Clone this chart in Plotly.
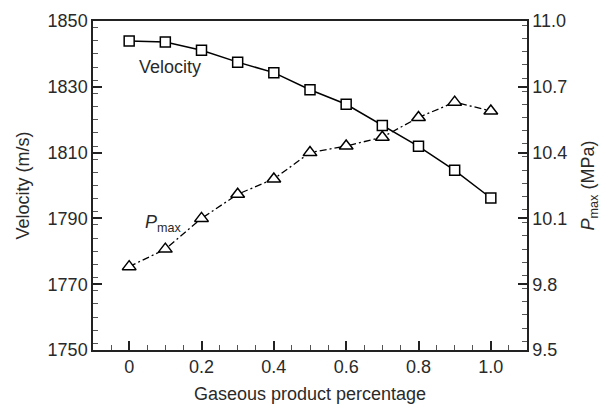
import plotly.graph_objects as go

gas_fraction = [0, 0.1, 0.2, 0.3, 0.4, 0.5, 0.6, 0.7, 0.8, 0.9, 1.0]
velocity = [1843.9, 1843.6, 1841.1, 1837.5, 1834.3, 1829.1, 1824.7, 1818.2, 1811.9, 1804.6, 1796.2]
pmax = [9.88, 9.96, 10.10, 10.21, 10.28, 10.40, 10.43, 10.47, 10.56, 10.63, 10.59]

x_tickvals = [0, 0.2, 0.4, 0.6, 0.8, 1.0]
x_ticktext = ["0", "0.2", "0.4", "0.6", "0.8", "1.0"]
x_minorvals = [-0.05, 0.05, 0.1, 0.15, 0.25, 0.3, 0.35, 0.45, 0.5, 0.55, 0.65, 0.7, 0.75,
               0.85, 0.9, 0.95, 1.05]

FONT = "Liberation Sans, Arial, sans-serif"
TXT = "#2a2a2a"

fig = go.Figure()
fig.add_trace(go.Scatter(
    x=gas_fraction, y=velocity, mode="lines+markers", name="Velocity",
    line=dict(color="black", width=1.5),
    marker=dict(symbol="square", size=10, color="white", line=dict(color="black", width=1.5)),
    yaxis="y"))
fig.add_trace(go.Scatter(
    x=gas_fraction, y=pmax, mode="lines+markers", name="Pmax",
    line=dict(color="black", width=1.3, dash="7px,3px,2px,3px"),
    marker=dict(symbol="triangle-up", size=12, color="white", line=dict(color="black", width=1.5)),
    yaxis="y2"))

fig.update_layout(
    width=607, height=404,
    margin=dict(l=93, r=80, t=21, b=54),
    paper_bgcolor="white", plot_bgcolor="white",
    showlegend=False,
    font=dict(family=FONT, size=18, color=TXT),
    xaxis=dict(
        range=[-0.1, 1.1], tickvals=x_tickvals, ticktext=x_ticktext,
        ticks="inside", ticklen=9, tickwidth=1.5, tickcolor="#222",
        minor=dict(tickvals=x_minorvals, ticks="inside", ticklen=5, tickwidth=1, tickcolor="#555"),
        showline=True, linecolor="#222", linewidth=1.5, mirror=True,
        showgrid=False, zeroline=False, automargin=False,
        title=dict(text="Gaseous product percentage", font=dict(size=18), standoff=11),
        tickfont=dict(size=18)),
    yaxis=dict(
        range=[1750, 1850], dtick=20, tick0=1750,
        ticks="inside", ticklen=9, tickwidth=1.5, tickcolor="#222",
        minor=dict(dtick=4, ticks="inside", ticklen=5, tickwidth=1, tickcolor="#555"),
        showline=True, linecolor="#222", linewidth=1.5,
        showgrid=False, zeroline=False, automargin=False,
        title=dict(text="Velocity (m/s)", font=dict(size=18), standoff=13),
        tickfont=dict(size=18)),
    yaxis2=dict(
        overlaying="y", side="right",
        range=[9.5, 11.0], dtick=0.3, tick0=9.5, tickformat=".1f",
        ticks="inside", ticklen=9, tickwidth=1.5, tickcolor="#222",
        minor=dict(dtick=0.06, ticks="inside", ticklen=5, tickwidth=1, tickcolor="#555"),
        showline=True, linecolor="#222", linewidth=1.5,
        showgrid=False, zeroline=False, automargin=False,
        title=dict(text="<i>P</i><sub>max</sub> (MPa)", font=dict(size=18), standoff=15),
        tickfont=dict(size=18)),
    annotations=[
        dict(x=0.113, y=1836.0, xref="x", yref="y", text="Velocity", showarrow=False,
             font=dict(size=18, color=TXT)),
        dict(x=0.038, y=1788.5, xref="x", yref="y", text="<i>P</i><sub>max</sub>",
             showarrow=False, xanchor="left", font=dict(size=18, color=TXT)),
    ],
)

fig.write_html("out.html", config={"displayModeBar": False},
               post_script="document.body.style.margin='0';")
